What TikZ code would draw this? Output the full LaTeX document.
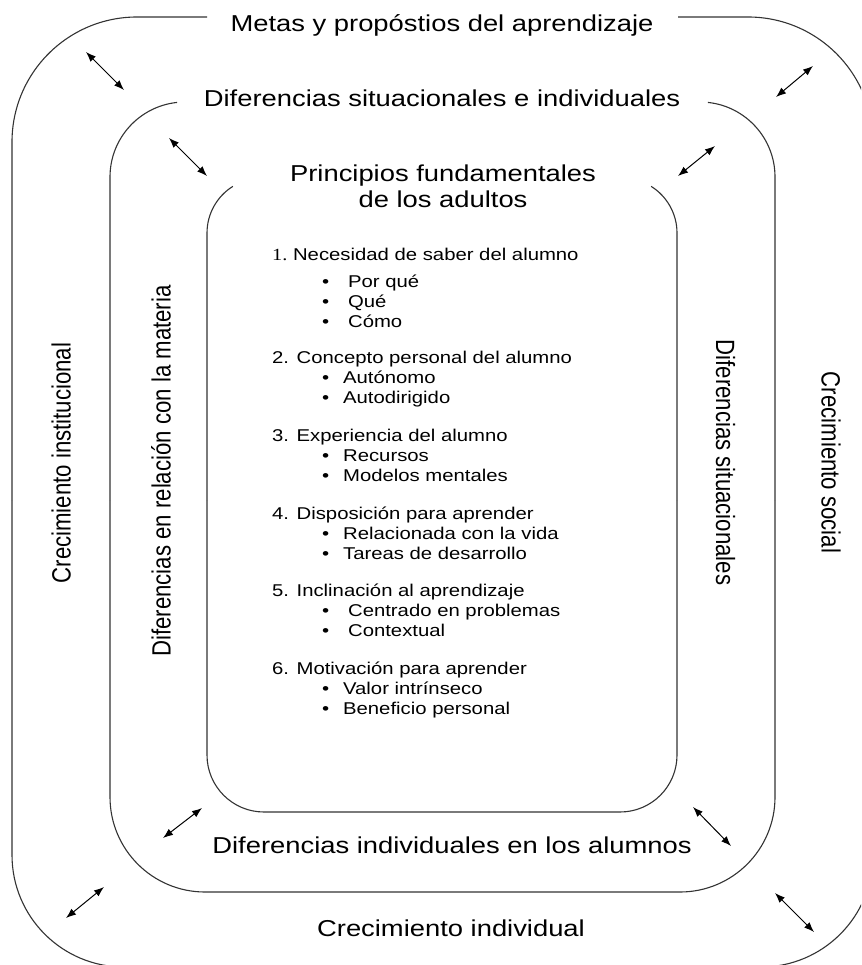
\documentclass[tikz,border=0pt]{standalone}
\usepackage{fontspec}
\setsansfont{Liberation Sans}
\newfontfamily\numfont{Liberation Serif}
\usepackage{graphicx}
\usetikzlibrary{arrows.meta}

\newcommand{\stretchh}[1]{\scalebox{1.19}[1]{#1}}
\newcommand{\stretchv}[1]{\scalebox{1}[1.19]{#1}}
\newcommand{\itm}[2][17.6pt]{\hspace*{42pt}\makebox[#1][l]{\textbullet}#2}

\begin{document}
\begin{tikzpicture}[
    x=1pt, y=-1pt,
    ring/.style={draw=black!80, line width=1.1pt},
    dblarrow/.style={{Latex[length=10pt,width=7.5pt]}-{Latex[length=10pt,width=7.5pt]}, line width=1pt},
    bigtext/.style={font=\sffamily\fontsize{23}{26}\selectfont, inner sep=0pt, anchor=base},
    sidetext/.style={font=\sffamily\fontsize{22.2}{26}\selectfont, inner sep=0pt, anchor=base},
    listtext/.style={font=\sffamily\fontsize{17.06}{20}\selectfont, inner sep=0pt, anchor=base west}
]
\useasboundingbox (0,0) rectangle (861,965);
\clip (0,0) rectangle (861,965);

% Outer ring
\draw[ring] (12,500) -- (12,142) arc[start angle=180, end angle=90, radius=125pt] -- (207,17);
\draw[ring] (678,17) -- (748,17) arc[start angle=90, end angle=0, radius=125pt] -- (873,500);
\draw[ring, rounded corners=112pt] (873,500) -- (873,967) -- (12,967) -- (12,500);

% Middle ring
\draw[ring] (110,500) -- (110,177) arc[start angle=180, end angle=96, radius=75pt];
\draw[ring] (775,500) -- (775,177) arc[start angle=0, end angle=84, radius=75pt];
\draw[ring, rounded corners=95pt] (110,500) -- (110,892) -- (775,892) -- (775,500);

% Inner ring
\draw[ring] (207,500) -- (207,233) arc[start angle=180, end angle=122, radius=55pt];
\draw[ring] (677,500) -- (677,233) arc[start angle=0, end angle=58, radius=55pt];
\draw[ring, rounded corners=57pt] (207,500) -- (207,812) -- (677,812) -- (677,500);

% Ring titles
\node[bigtext] (metas) at (442,32) {\stretchh{Metas y propóstios del aprendizaje}};
\node[bigtext] (difsitind) at (442,107) {\stretchh{Diferencias situacionales e individuales}};
\node[bigtext] (principios) at (443,182) {\stretchh{\begin{tabular}[t]{@{}c@{}}Principios fundamentales\\ de los adultos\end{tabular}}};
\node[bigtext] (difind) at (452,853) {\stretchh{Diferencias individuales en los alumnos}};
\node[bigtext] (crecind) at (451,936) {\stretchh{Crecimiento individual}};

% Side titles
\node[sidetext, rotate=90] (crecinst) at (70.7,463) {\stretchv{Crecimiento institucional}};
\node[sidetext, rotate=90] (difmateria) at (170.5,471) {\stretchv{Diferencias en relación con la materia}};
\node[sidetext, rotate=-90] (difsit) at (716,462.5) {\stretchv{Diferencias situacionales}};
\node[sidetext, rotate=-90] (crecsoc) at (821.7,462.5) {\stretchv{Crecimiento social}};

% Principles
\node[listtext] (necesidad) at (272,260.5) {\stretchh{\begin{tabular}[t]{@{}l@{}}{\numfont 1.}\ Necesidad de saber del alumno\\[7pt]
    \itm[21.8pt]{Por qué}\\ \itm[21.8pt]{Qué}\\ \itm[21.8pt]{Cómo}\end{tabular}}};
\node[listtext] (concepto) at (272,363.5) {\stretchh{\begin{tabular}[t]{@{}l@{}}2. Concepto personal del alumno\\
    \itm{Autónomo}\\ \itm{Autodirigido}\end{tabular}}};
\node[listtext] (experiencia) at (272,441.5) {\stretchh{\begin{tabular}[t]{@{}l@{}}3. Experiencia del alumno\\
    \itm{Recursos}\\ \itm{Modelos mentales}\end{tabular}}};
\node[listtext] (disposicion) at (272,519.3) {\stretchh{\begin{tabular}[t]{@{}l@{}}4. Disposición para aprender\\
    \itm{Relacionada con la vida}\\ \itm{Tareas de desarrollo}\end{tabular}}};
\node[listtext] (inclinacion) at (272,596.5) {\stretchh{\begin{tabular}[t]{@{}l@{}}5. Inclinación al aprendizaje\\
    \itm[21.8pt]{Centrado en problemas}\\ \itm[21.8pt]{Contextual}\end{tabular}}};
\node[listtext] (motivacion) at (272,674.3) {\stretchh{\begin{tabular}[t]{@{}l@{}}6. Motivación para aprender\\
    \itm{Valor intrínseco}\\ \itm{Beneficio personal}\end{tabular}}};

% Arrow ends
\coordinate (nwout1) at (86,52);   \coordinate (nwout2) at (124,90);
\coordinate (nwmid1) at (169,138); \coordinate (nwmid2) at (207,176);
\coordinate (neout1) at (813,66);  \coordinate (neout2) at (776,97);
\coordinate (nemid1) at (715,146); \coordinate (nemid2) at (678,176);
\coordinate (swmid1) at (202,808); \coordinate (swmid2) at (163,838);
\coordinate (swout1) at (104,887); \coordinate (swout2) at (66,918);
\coordinate (semid1) at (693,807); \coordinate (semid2) at (731,846);
\coordinate (seout1) at (775,893); \coordinate (seout2) at (814,932);

% Interactions between rings
\draw[dblarrow] (nwout1) -- (nwout2);
\draw[dblarrow] (nwmid1) -- (nwmid2);
\draw[dblarrow] (neout1) -- (neout2);
\draw[dblarrow] (nemid1) -- (nemid2);
\draw[dblarrow] (swmid1) -- (swmid2);
\draw[dblarrow] (swout1) -- (swout2);
\draw[dblarrow] (semid1) -- (semid2);
\draw[dblarrow] (seout1) -- (seout2);

\end{tikzpicture}
\end{document}
